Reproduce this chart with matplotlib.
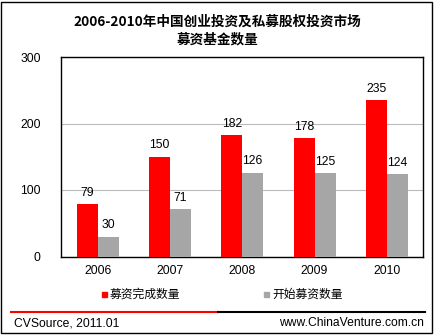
import matplotlib
matplotlib.use("Agg")
import matplotlib.pyplot as plt
from matplotlib.patches import Rectangle
from matplotlib.lines import Line2D
import numpy as np

plt.rcParams['font.family'] = ['Liberation Sans', 'Noto Sans CJK SC', 'DejaVu Sans']

years = ['2006', '2007', '2008', '2009', '2010']
completed = [79, 150, 182, 178, 235]
started = [30, 71, 126, 125, 124]
series_names = ['募资完成数量', '开始募资数量']
title = '2006-2010年中国创业投资及私募股权投资市场\n募资基金数量'
yticks = [0, 100, 200, 300]

W, H = 435, 335
fig = plt.figure(figsize=(W/100, H/100), dpi=100)

def fx(px): return px / W
def fy(py): return 1 - py / H

FS = 8.7

# outer border
fig.add_artist(Rectangle((fx(1.5), fy(332.5)), fx(431), (331)/H, transform=fig.transFigure,
                         fill=False, edgecolor='black', linewidth=1.0))

ax = fig.add_axes([fx(61.5), fy(256.5), fx(423 - 61.5), (256.5 - 57) / H])
x = np.arange(len(years))
bw = 0.29
ax.bar(x - bw/2, completed, width=bw, color='#FF0000', zorder=3)
ax.bar(x + bw/2, started, width=bw, color='#A6A6A6', zorder=3)
for xi, v in zip(x, completed):
    ax.text(xi - bw/2, v + 8, str(v), ha='center', va='bottom', fontsize=FS)
for xi, v in zip(x, started):
    ax.text(xi + bw/2, v + 8, str(v), ha='center', va='bottom', fontsize=FS)

ax.set_xlim(-0.5, len(years) - 0.5)
ax.set_ylim(0, 300)
ax.set_yticks(yticks)
ax.set_yticklabels([str(t) for t in yticks], fontsize=FS)
ax.set_xticks(x)
ax.set_xticklabels(years, fontsize=FS)
ax.tick_params(axis='both', length=0, pad=6)
ax.tick_params(axis='y', pad=15)
ax.yaxis.grid(True, color='#BBBBBB', linewidth=0.8, zorder=0)
for s in ax.spines.values():
    s.set_linewidth(1.0)
    s.set_color('black')

fig.text(0.5, fy(31), title, ha='center', va='center', fontsize=9.8, fontweight='bold',
         family=['Noto Sans CJK SC'], linespacing=1.35)

# legend
fig.add_artist(Rectangle((fx(102), fy(297)), fx(5), 5/H, transform=fig.transFigure,
                         color='#FF0000'))
fig.text(fx(110), fy(294), series_names[0], ha='left', va='center', fontsize=8.5,
         family=['Noto Sans CJK SC'])
fig.add_artist(Rectangle((fx(264), fy(297)), fx(5), 5/H, transform=fig.transFigure,
                         color='#A6A6A6'))
fig.text(fx(272), fy(294), series_names[1], ha='left', va='center', fontsize=8.5,
         family=['Noto Sans CJK SC'])

# footer lines
fig.add_artist(Line2D([fx(11), fx(218)], [fy(312), fy(312)], color='#FF0000', linewidth=1.5,
                      transform=fig.transFigure))
fig.add_artist(Line2D([fx(218), fx(425)], [fy(312), fy(312)], color='black', linewidth=1.5,
                      transform=fig.transFigure))
fig.text(fx(14), fy(323), 'CVSource, 2011.01', ha='left', va='center', fontsize=FS)
fig.text(fx(424), fy(323), 'www.ChinaVenture.com.cn', ha='right', va='center', fontsize=FS)

fig.savefig('out.png', dpi=100)
